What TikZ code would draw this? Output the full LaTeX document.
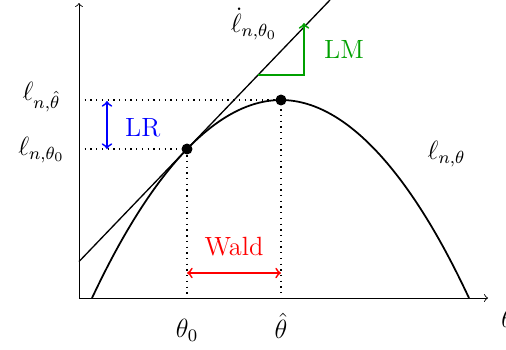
\documentclass[tikz,border=0pt]{standalone}
\usepackage{amsmath}
\usepackage{amssymb}
\usepackage{tikz}
\usepackage{xcolor}
\usetikzlibrary{arrows}

\definecolor{lmgreen}{RGB}{0,160,0}

\begin{document}
\begin{tikzpicture}[scale=1,every node/.style={font=\large}]
\useasboundingbox (-1.264,-0.816) rectangle (6.832,4.768);
% axes
\coordinate (O) at (0,0);
\coordinate (xend) at (6.544,0);
\coordinate (yend) at (0,4.72);
\draw[->] (O) -- (xend);
\draw[->] (O) -- (yend);
\node (thlab) at (6.86,-0.32) {\(\theta\)};
% points
\coordinate (p0) at (1.728,2.384);
\coordinate (ph) at (3.232,3.168);
\coordinate (p0x) at (1.728,0);
\coordinate (phx) at (3.232,0);
\coordinate (p0y) at (0,2.384);
\coordinate (phy) at (0,3.168);
% dotted guides
\draw[dotted,semithick] (phy) -- (ph) -- (phx);
\draw[dotted,semithick] (p0y) -- (p0) -- (p0x);
% curve and tangent
\draw[thick] (0.208,0) parabola bend (ph) (6.24,0);
\coordinate (tanA) at (0,0.583);
\coordinate (tanB) at (4.016,4.768);
\draw[semithick] (tanA) -- (tanB);
\fill (p0) circle (2.5pt);
\fill (ph) circle (2.5pt);
% labels
\node (lhat) at (-0.6,3.22) {\(\ell_{n,\hat{\theta}}\)};
\node (lzero) at (-0.6,2.37) {\(\ell_{n,\theta_0}\)};
\node (ldot) at (2.8,4.38) {\(\dot{\ell}_{n,\theta_0}\)};
\node (lth) at (5.88,2.3) {\(\ell_{n,\theta}\)};
\node (th0) at (1.728,-0.52) {\(\theta_0\)};
\node (thh) at (3.232,-0.44) {\(\hat{\theta}\)};
% LR
\coordinate (lrA) at (0.448,3.152);
\coordinate (lrB) at (0.448,2.384);
\draw[<->,blue,thick] (lrA) -- (lrB);
\node[blue] (lr) at (1.02,2.73) {LR};
% LM
\coordinate (lmA) at (2.864,3.568);
\coordinate (lmB) at (3.6,3.568);
\coordinate (lmC) at (3.6,4.4);
\draw[->,lmgreen,thick] (lmA) -- (lmB) -- (lmC);
\node[lmgreen] (lm) at (4.24,3.98) {LM};
% Wald
\coordinate (wA) at (1.728,0.4);
\coordinate (wB) at (3.232,0.4);
\draw[<->,red,thick] (wA) -- (wB);
\node[red] (wald) at (2.48,0.82) {Wald};
\end{tikzpicture}
\end{document}
